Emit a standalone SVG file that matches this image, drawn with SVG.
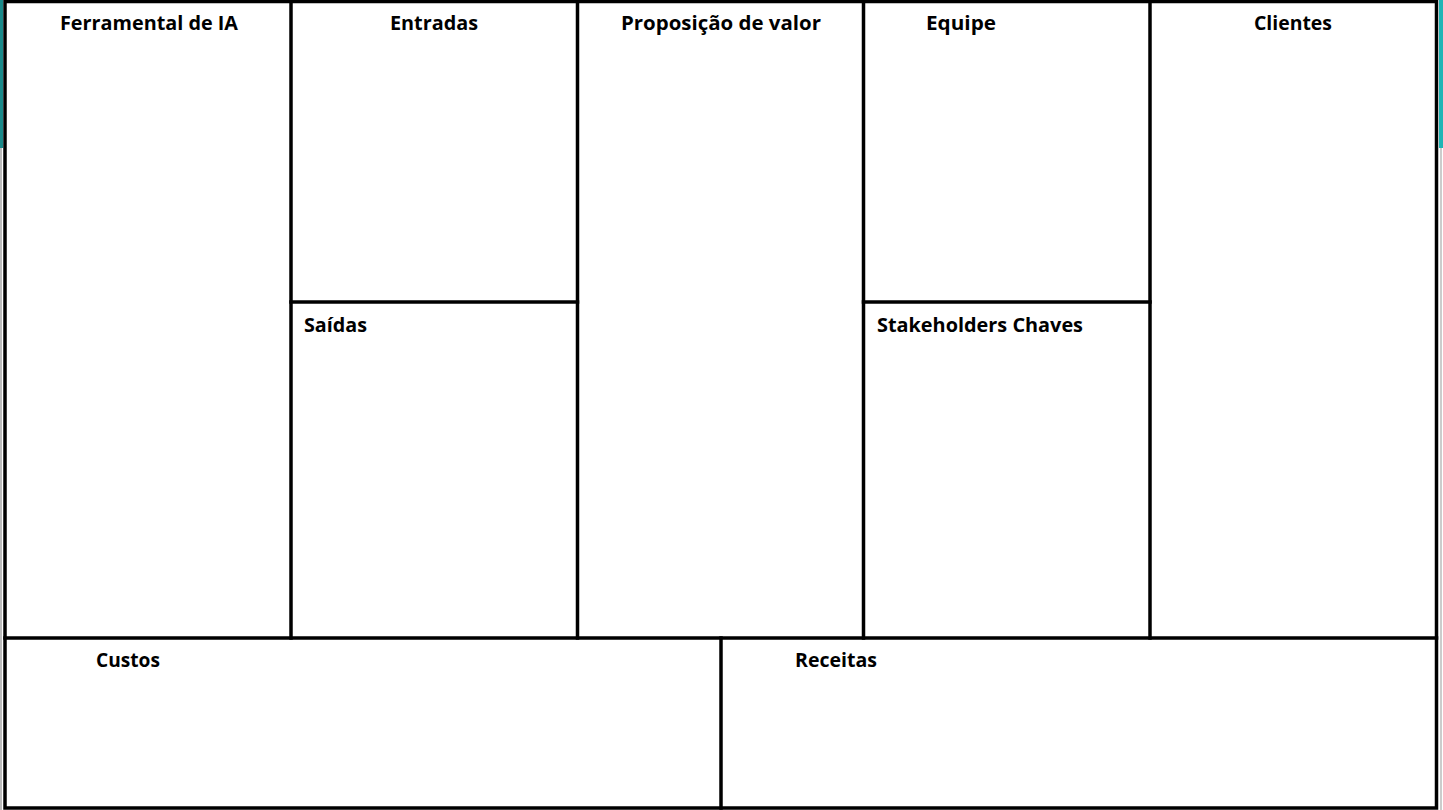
<svg xmlns="http://www.w3.org/2000/svg" width="1443" height="810" viewBox="0 0 1443 810">
<style>
.ln{stroke:#000;stroke-width:3.5;fill:none;stroke-linecap:square}
.t{font-family:"Open Sans","Liberation Sans",sans-serif;font-weight:bold;font-size:19px;fill:#000}
</style>
<rect width="1443" height="810" fill="#fff"/>
<rect x="0" y="0" width="3" height="148" fill="#1a8a8a"/>
<rect x="0" y="148" width="2" height="662" fill="#bbb"/>
<rect x="1439" y="0" width="4" height="148" fill="#1fb5b5"/>
<rect x="1440" y="148" width="2" height="662" fill="#ccc"/>
<g id="connectors">
<rect class="ln" x="5" y="1.5" width="1431.5" height="806.5"/>
<line class="ln" x1="5" y1="638" x2="1436.5" y2="638"/>
<line class="ln" x1="291" y1="1.5" x2="291" y2="638"/>
<line class="ln" x1="577.5" y1="1.5" x2="577.5" y2="638"/>
<line class="ln" x1="863.5" y1="1.5" x2="863.5" y2="638"/>
<line class="ln" x1="1150" y1="1.5" x2="1150" y2="638"/>
<line class="ln" x1="291" y1="302" x2="577.5" y2="302"/>
<line class="ln" x1="863.5" y1="302" x2="1150" y2="302"/>
<line class="ln" x1="721" y1="638" x2="721" y2="808"/>
</g>
<g id="ferramental"><text class="t" x="60" y="30" textLength="178" lengthAdjust="spacingAndGlyphs">Ferramental de IA</text></g>
<g id="entradas"><text class="t" x="390" y="30" textLength="88" lengthAdjust="spacingAndGlyphs">Entradas</text></g>
<g id="saidas"><text class="t" x="304" y="332" textLength="63" lengthAdjust="spacingAndGlyphs">Saídas</text></g>
<g id="proposicao"><text class="t" x="621" y="30" textLength="200" lengthAdjust="spacingAndGlyphs">Proposição de valor</text></g>
<g id="equipe"><text class="t" x="926" y="30" textLength="70" lengthAdjust="spacingAndGlyphs">Equipe</text></g>
<g id="stakeholders"><text class="t" x="877" y="332" textLength="206" lengthAdjust="spacingAndGlyphs">Stakeholders Chaves</text></g>
<g id="clientes"><text class="t" x="1254" y="30" textLength="78" lengthAdjust="spacingAndGlyphs">Clientes</text></g>
<g id="custos"><text class="t" x="96" y="667" textLength="64" lengthAdjust="spacingAndGlyphs">Custos</text></g>
<g id="receitas"><text class="t" x="795" y="667" textLength="82" lengthAdjust="spacingAndGlyphs">Receitas</text></g>
</svg>
